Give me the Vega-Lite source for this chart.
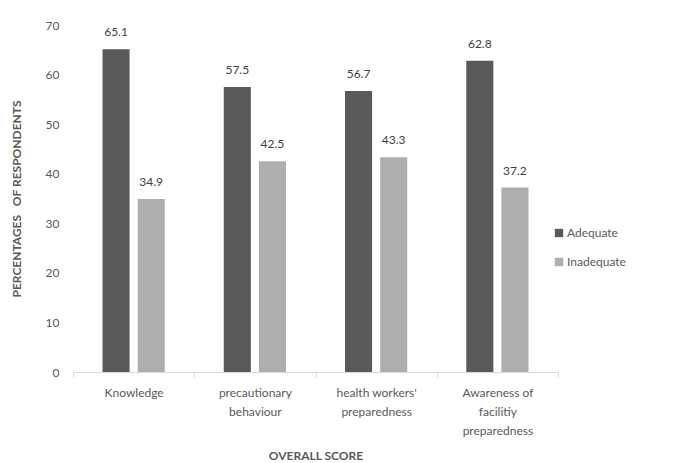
{
  "$schema": "https://vega.github.io/schema/vega-lite/v6.json",
  "width": 485,
  "height": 347,
  "autosize": {"type": "none"},
  "padding": {"left": 73, "top": 25, "right": 115, "bottom": 91},
  "background": "white",
  "config": {
    "view": {"stroke": null},
    "font": "Lato",
    "axis": {"labelColor": "#595959", "titleColor": "#595959", "labelFont": "Lato", "titleFont": "Lato"},
    "legend": {"labelColor": "#595959", "labelFont": "Lato"}
  },
  "data": {
    "values": [
      {"category": "Knowledge", "score": "Adequate", "value": 65.1},
      {"category": "Knowledge", "score": "Inadequate", "value": 34.9},
      {"category": "precautionary behaviour", "score": "Adequate", "value": 57.5},
      {"category": "precautionary behaviour", "score": "Inadequate", "value": 42.5},
      {"category": "health workers' preparedness", "score": "Adequate", "value": 56.7},
      {"category": "health workers' preparedness", "score": "Inadequate", "value": 43.3},
      {"category": "Awareness of facilitiy preparedness", "score": "Adequate", "value": 62.8},
      {"category": "Awareness of facilitiy preparedness", "score": "Inadequate", "value": 37.2}
    ]
  },
  "encoding": {
    "x": {
      "field": "category",
      "type": "nominal",
      "sort": null,
      "scale": {"paddingInner": 0, "paddingOuter": 0},
      "axis": {
        "title": "OVERALL SCORE",
        "titleFontWeight": "bold",
        "titleFontSize": 12,
        "titlePadding": 14,
        "labelAngle": 0,
        "labelFontSize": 12,
        "labelPadding": 10,
        "labelLineHeight": 19,
        "labelExpr": "datum.value == 'precautionary behaviour' ? ['precautionary', 'behaviour'] : datum.value == \"health workers' preparedness\" ? ['health workers\\'', 'preparedness'] : datum.value == 'Awareness of facilitiy preparedness' ? ['Awareness of', 'facilitiy', 'preparedness'] : datum.value",
        "domainColor": "#d9d9d9",
        "tickColor": "#d9d9d9",
        "tickBand": "extent",
        "tickSize": 5,
        "grid": false
      }
    },
    "xOffset": {
      "field": "score",
      "type": "nominal",
      "scale": {"paddingInner": 0.23, "paddingOuter": 0.84}
    },
    "y": {
      "field": "value",
      "type": "quantitative",
      "scale": {"domain": [0, 70]},
      "axis": {
        "title": "PERCENTAGES\u00a0\u00a0\u00a0OF RESPONDENTS",
        "titleFontWeight": "bold",
        "titleFontSize": 12,
        "titlePadding": 22,
        "values": [0, 10, 20, 30, 40, 50, 60, 70],
        "labelFontSize": 12,
        "labelPadding": 14,
        "domain": false,
        "ticks": false,
        "grid": false
      }
    }
  },
  "layer": [
    {
      "mark": {"type": "bar"},
      "encoding": {
        "color": {
          "field": "score",
          "type": "nominal",
          "scale": {"domain": ["Adequate", "Inadequate"], "range": ["#595959", "#aeaeae"]},
          "legend": {
            "title": null,
            "orient": "none",
            "legendX": 480,
            "legendY": 202,
            "symbolType": "square",
            "symbolSize": 70,
            "symbolStrokeWidth": 0,
            "labelFontSize": 12,
            "rowPadding": 17,
            "labelOffset": 2
          }
        }
      }
    },
    {
      "mark": {"type": "text", "dy": -17, "fontSize": 12, "color": "#404040", "font": "Lato"},
      "encoding": {
        "text": {"field": "value", "type": "quantitative", "format": ".1f"}
      }
    }
  ]
}
